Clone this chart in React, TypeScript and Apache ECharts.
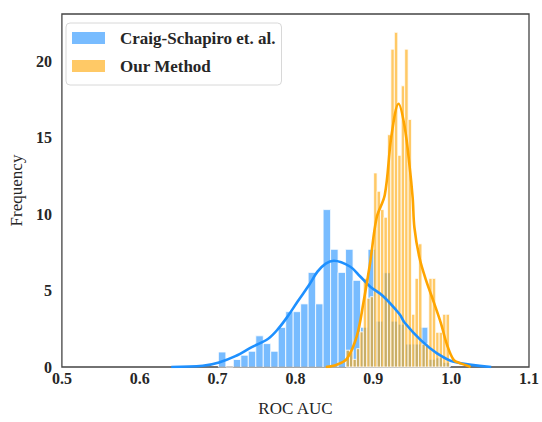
import React, { useEffect, useRef } from "react";
import * as echarts from "echarts";

const blueName = "Craig-Schapiro et. al.";
const orangeName = "Our Method";

// Histogram bins (density values)
const blueBinStart = 0.701;
const blueBinWidth = 0.00961;
const blueHeights = [
  0.98, 0, 0.49, 0.77, 1.03, 2.04, 1.53, 1.03, 2.59, 3.62, 3.62, 4.13, 6.19, 4.13, 10.3,
  7.7, 6.19, 7.7, 5.67, 2.6, 7.7, 3.0, 6.17, 3.0, 2.8, 1.5, 1.5, 2.6, 0.5, 0.6, 0.3,
];

const orangeBinStart = 0.865;
const orangeBinWidth = 0.00443;
const orangeHeights = [
  1.1, 1.1, 0.5, 1.2, 2.3, 5.8, 4.5, 4.6, 12.7, 11.5, 10.3, 9.8, 15.2, 20.8, 21.9,
  13.85, 18.4, 20.8, 16.2, 3.45, 5.8, 8.06, 1.5, 1.5, 5.8, 5.8, 2.27, 2.27, 3.45, 3.45,
];

// KDE curves
const blueKdeX = [0.6404, 0.6809, 0.7018, 0.7228, 0.7439, 0.765, 0.7777, 0.7904, 0.803, 0.8177, 0.8283, 0.8389, 0.8494, 0.8705, 0.8832, 0.8958, 0.9127, 0.9338, 0.9401, 0.9613, 0.9823, 1.0034, 1.0515];
const blueKdeY = [0, 0.08, 0.3, 0.71, 1.3, 1.85, 2.49, 3.34, 4.3, 5.38, 6.24, 6.77, 6.95, 6.56, 5.92, 5.27, 4.63, 3.45, 2.91, 1.74, 0.88, 0.34, 0];

const orangeKdeX = [0.839, 0.853, 0.8663, 0.879, 0.8873, 0.8958, 0.9043, 0.9148, 0.9233, 0.9325, 0.9401, 0.9465, 0.9506, 0.9528, 0.9591, 0.9676, 0.978, 0.9866, 0.995, 1.0034, 1.0119, 1.02, 1.025];
const orangeKdeY = [0, 0.15, 0.56, 2.06, 4.2, 6.77, 9.77, 11.27, 15.13, 17.23, 15.77, 13.2, 11.06, 9.13, 7.2, 5.7, 4.2, 2.91, 1.41, 0.45, 0.24, 0.1, 0];

const xMin = 0.5;
const xMax = 1.1;
const xStep = 0.1;
const yMin = 0;
const yMax = 23.1;
const yStep = 5;

const serif = "'Liberation Serif', 'DejaVu Serif', serif";
const blueFill = "rgba(30,144,255,0.6)";
const orangeFill = "rgba(255,165,0,0.6)";

function bins(start: number, width: number, heights: number[]) {
  return heights.map((h, i) => [start + i * width, start + (i + 1) * width, h]);
}

function histSeries(name: string, data: number[][], color: string, z: number) {
  return {
    type: "custom",
    name,
    z,
    itemStyle: { color },
    encode: { x: [0, 1], y: 2 },
    data,
    renderItem: (params: any, api: any) => {
      const x0 = api.value(0);
      const x1 = api.value(1);
      const h = api.value(2);
      const p0 = api.coord([x0, h]);
      const p1 = api.coord([x1, 0]);
      return {
        type: "rect",
        shape: { x: p0[0], y: p0[1], width: p1[0] - p0[0], height: p1[1] - p0[1] },
        style: { fill: color, stroke: "#ffffff", lineWidth: 0.8 },
      };
    },
  };
}

export default function App() {
  const ref = useRef<HTMLDivElement>(null);
  useEffect(() => {
    if (!ref.current) return;
    const chart = echarts.init(ref.current, undefined, { renderer: "svg" });
    chart.setOption({
      animation: false,
      backgroundColor: "#ffffff",
      grid: {
        left: 57,
        right: 10,
        top: 14,
        bottom: 50,
        show: true,
        borderColor: "#444",
        borderWidth: 1.3,
        backgroundColor: "transparent",
      },
      legend: {
        left: 66,
        top: 23,
        orient: "vertical",
        itemWidth: 33,
        itemHeight: 12,
        itemGap: 10,
        padding: [6, 6, 10, 6],
        borderColor: "#d8d8d8",
        borderWidth: 1,
        borderRadius: 4,
        backgroundColor: "rgba(255,255,255,0.85)",
        data: [
          { name: blueName, icon: "rect", itemStyle: { color: blueFill } },
          { name: orangeName, icon: "rect", itemStyle: { color: orangeFill } },
        ],
        textStyle: {
          fontFamily: serif,
          fontWeight: "bold",
          fontSize: 17,
          color: "#262626",
          lineHeight: 18,
          padding: [0, 0, 0, 10],
        },
      },
      xAxis: {
        type: "value",
        min: xMin,
        max: xMax,
        interval: xStep,
        name: "ROC AUC",
        nameLocation: "middle",
        nameGap: 33,
        nameTextStyle: { fontFamily: serif, fontSize: 17, color: "#262626" },
        axisLine: { show: false },
        axisTick: { show: false },
        splitLine: { show: false },
        axisLabel: {
          margin: 3,
          fontFamily: serif,
          fontWeight: "bold",
          fontSize: 16,
          color: "#262626",
          formatter: (v: number) => v.toFixed(1),
        },
      },
      yAxis: {
        type: "value",
        min: yMin,
        max: yMax,
        interval: yStep,
        name: "Frequency",
        nameLocation: "middle",
        nameGap: 35,
        nameTextStyle: { fontFamily: serif, fontSize: 17, color: "#262626" },
        axisLine: { show: false },
        axisTick: { show: false },
        splitLine: { show: false },
        axisLabel: {
          margin: 10,
          showMaxLabel: false,
          fontFamily: serif,
          fontWeight: "bold",
          fontSize: 16,
          color: "#262626",
        },
      },
      series: [
        histSeries(blueName, bins(blueBinStart, blueBinWidth, blueHeights), blueFill, 2),
        histSeries(orangeName, bins(orangeBinStart, orangeBinWidth, orangeHeights), orangeFill, 3),
        {
          type: "line",
          name: "blue-kde",
          z: 5,
          smooth: 0.35,
          showSymbol: false,
          lineStyle: { color: "#1e90ff", width: 2.6 },
          data: blueKdeX.map((x, i) => [x, blueKdeY[i]]),
        },
        {
          type: "line",
          name: "orange-kde",
          z: 6,
          smooth: 0.35,
          showSymbol: false,
          lineStyle: { color: "#ffa500", width: 2.6 },
          data: orangeKdeX.map((x, i) => [x, orangeKdeY[i]]),
        },
      ],
    });
    return () => chart.dispose();
  }, []);
  return <div ref={ref} style={{ width: 542, height: 422, position: "absolute", left: 0, top: 0 }} />;
}
